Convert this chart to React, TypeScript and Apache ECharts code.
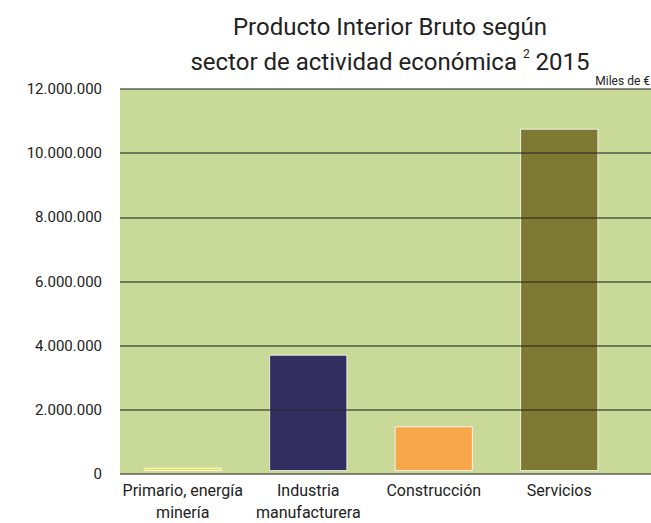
import React, { useEffect, useRef } from "react";
import * as echarts from "echarts";

const categories = ["Primario, energía\nminería", "Industria\nmanufacturera", "Construcción", "Servicios"];
const values = [100000, 3650000, 1400000, 10750000];
const barColors = ["#efe04a", "#332e60", "#f7a64c", "#7d7832"];
const yTicks = { min: 0, max: 12000000, interval: 2000000 };

const FONT = "Roboto, 'Liberation Sans', Arial, sans-serif";

function fmt(v: number): string {
  const s = Math.round(v).toString();
  return s.replace(/\B(?=(\d{3})+(?!\d))/g, ".");
}

export default function App() {
  const ref = useRef<HTMLDivElement>(null);
  useEffect(() => {
    document.body.style.margin = "0";
    if (!ref.current) return;
    const chart = echarts.init(ref.current, undefined, { renderer: "svg" });
    chart.setOption({
      animation: false,
      backgroundColor: "#ffffff",
      textStyle: { fontFamily: FONT },
      title: {
        left: 385,
        top: 4,
        textAlign: "center",
        text: "{a|Producto Interior Bruto según}\n{a|sector de actividad económica }{s|2}{a| 2015}",
        textStyle: {
          fontWeight: "normal",
          rich: {
            a: { fontSize: 24, lineHeight: 35, color: "#222222", fontWeight: "normal", fontFamily: FONT },
            s: { fontSize: 12, lineHeight: 35, color: "#222222", fontWeight: "normal", verticalAlign: "top", padding: [4, 0, 0, 0], fontFamily: FONT },
          },
        },
      },
      graphic: [
        {
          type: "text",
          right: 1,
          top: 75,
          style: { text: "Miles de €", fontSize: 12, fill: "#222222", fontFamily: FONT },
        },
      ],
      grid: [
        { left: 120, right: 0, top: 89, bottom: 49, show: true, backgroundColor: "#c9d997", borderWidth: 0 },
        { left: 120, right: 29, top: 89, bottom: 49 },
      ],
      xAxis: [
        { gridIndex: 0, type: "value", min: 0, max: 1, show: false },
        {
          gridIndex: 1,
          type: "category",
          data: categories,
          axisLine: { show: false },
          axisTick: { show: false },
          axisLabel: { fontSize: 16, color: "#222222", lineHeight: 22, margin: 8, interval: 0, fontFamily: FONT },
        },
      ],
      yAxis: [
        {
          gridIndex: 0,
          type: "value",
          min: yTicks.min,
          max: yTicks.max,
          interval: yTicks.interval,
          z: 10,
          axisLine: { show: false },
          axisTick: { show: false },
          axisLabel: { fontSize: 15, color: "#222222", margin: 18, formatter: (v: number) => fmt(v), fontFamily: FONT },
          splitLine: { lineStyle: { color: "rgba(40,40,40,0.72)", width: 1.5 } },
        },
        { gridIndex: 1, type: "value", min: yTicks.min, max: yTicks.max, interval: yTicks.interval, show: false },
      ],
      series: [
        {
          type: "bar",
          xAxisIndex: 1,
          yAxisIndex: 1,
          barWidth: 78,
          z: 2,
          data: values.map((v, i) => ({
            value: v,
            itemStyle: { color: barColors[i], borderColor: "#ffffff", borderWidth: 0.8 },
          })),
        },
      ],
    });
    return () => chart.dispose();
  }, []);
  return <div ref={ref} style={{ width: 651, height: 523 }} />;
}
